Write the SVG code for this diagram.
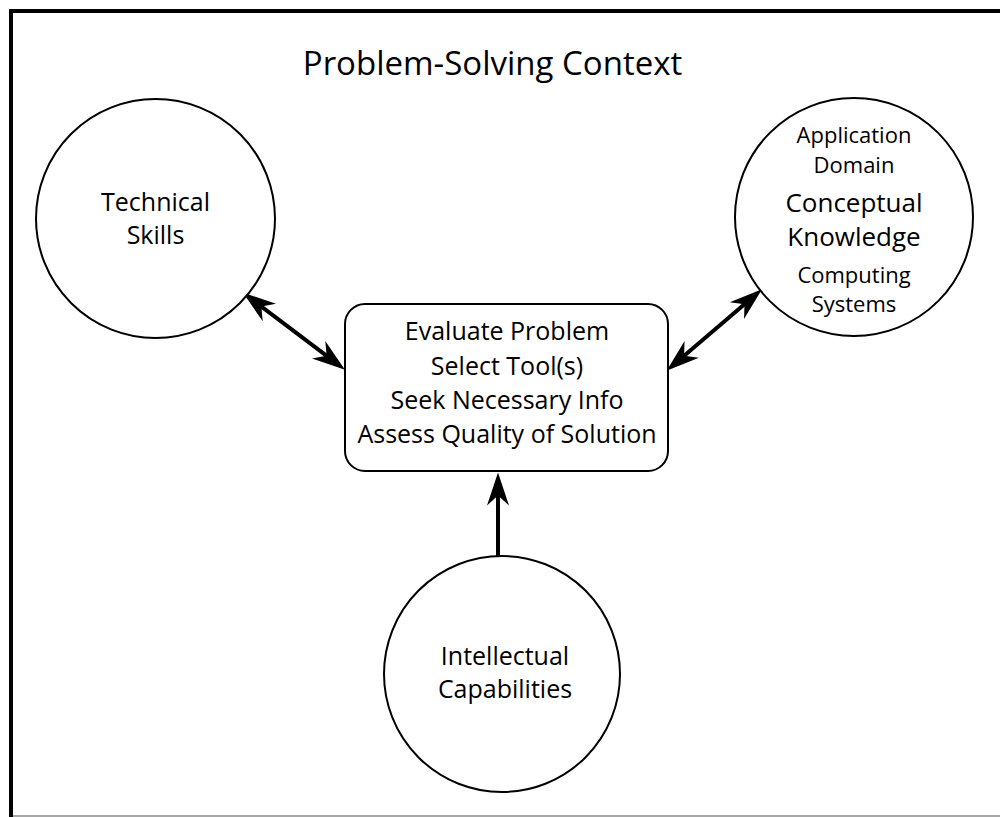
<svg xmlns="http://www.w3.org/2000/svg" width="1000" height="817" viewBox="0 0 1000 817">
<style>
  .node { fill: #ffffff; stroke: #000000; stroke-width: 2; }
  .t { font-family: "Open Sans", "Liberation Sans", sans-serif; fill: #000000; text-anchor: middle; }
  .lbl { font-size: 25px; }
  .sm { font-size: 22px; }
  .big { font-size: 26px; }
  .conn { stroke: #000000; stroke-width: 4; fill: none; }
</style>
<defs>
  <marker id="arrow" markerUnits="userSpaceOnUse" viewBox="-26 -12 38 24" refX="0" refY="0" markerWidth="38" markerHeight="24" orient="auto-start-reverse">
    <path d="M10,0 L-23,-11 L-13,0 L-23,11 Z" fill="#000000"/>
  </marker>
</defs>
<rect x="0" y="0" width="1000" height="817" fill="#ffffff"/>
<g id="frame">
  <line x1="9" y1="11" x2="1000" y2="11" stroke="#000000" stroke-width="4"/>
  <line x1="11" y1="9" x2="11" y2="817" stroke="#000000" stroke-width="4"/>
  <line x1="13" y1="816" x2="1000" y2="816" stroke="#8a8a8a" stroke-width="1.5"/>
</g>
<g id="title">
  <text class="t" x="492.5" y="75" font-size="33">Problem-Solving Context</text>
</g>
<g id="connectors">
  <line class="conn" x1="251" y1="298.7" x2="337" y2="363.7" marker-start="url(#arrow)" marker-end="url(#arrow)"/>
  <line class="conn" x1="674.2" y1="364.2" x2="754.4" y2="295.8" marker-start="url(#arrow)" marker-end="url(#arrow)"/>
  <line class="conn" x1="498" y1="556" x2="498" y2="482.5" marker-end="url(#arrow)"/>
</g>
<g id="technical-skills">
  <circle class="node" cx="155.5" cy="218.5" r="119.5"/>
  <text class="t lbl" x="155.5" y="210.5">Technical</text>
  <text class="t lbl" x="155.5" y="244">Skills</text>
</g>
<g id="conceptual-knowledge">
  <circle class="node" cx="854" cy="217" r="119"/>
  <text class="t sm" x="854" y="143.3">Application</text>
  <text class="t sm" x="854" y="172.7">Domain</text>
  <text class="t big" x="854" y="212">Conceptual</text>
  <text class="t big" x="854" y="245.5">Knowledge</text>
  <text class="t sm" x="854" y="283.3">Computing</text>
  <text class="t sm" x="854" y="311.7">Systems</text>
</g>
<g id="process">
  <rect class="node" x="345" y="304" width="323" height="167" rx="20" ry="20"/>
  <text class="t lbl" x="507" y="340">Evaluate Problem</text>
  <text class="t lbl" x="507" y="375">Select Tool(s)</text>
  <text class="t lbl" x="507" y="409.3">Seek Necessary Info</text>
  <text class="t lbl" x="507" y="443.3">Assess Quality of Solution</text>
</g>
<g id="intellectual-capabilities">
  <circle class="node" cx="502" cy="674" r="118"/>
  <text class="t lbl" x="505" y="665">Intellectual</text>
  <text class="t lbl" x="505" y="698.3">Capabilities</text>
</g>
</svg>
